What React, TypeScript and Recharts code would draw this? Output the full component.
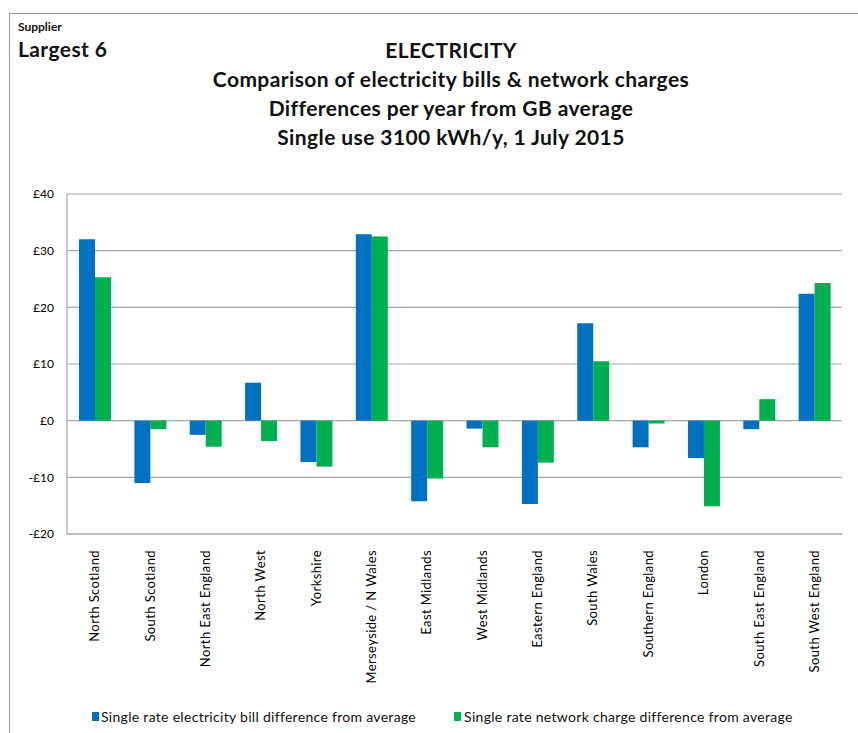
import React from "react";
import { BarChart, Bar, XAxis, YAxis, CartesianGrid } from "recharts";

const categories = [
  "North Scotland",
  "South Scotland",
  "North East England",
  "North West",
  "Yorkshire",
  "Merseyside / N Wales",
  "East Midlands",
  "West Midlands",
  "Eastern England",
  "South Wales",
  "Southern England",
  "London",
  "South East England",
  "South West England",
];
const billDiff = [32.0, -11.0, -2.5, 6.7, -7.3, 32.9, -14.2, -1.4, -14.7, 17.2, -4.7, -6.6, -1.5, 22.4];
const networkDiff = [25.3, -1.5, -4.6, -3.6, -8.1, 32.5, -10.2, -4.7, -7.4, 10.5, -0.5, -15.1, 3.8, 24.3];
const yTicks = [-20, -10, 0, 10, 20, 30, 40];
const seriesNames = [
  "Single rate electricity bill difference from average",
  "Single rate network charge difference from average",
];
const titleLines = [
  "ELECTRICITY",
  "Comparison of electricity bills & network charges",
  "Differences per year from GB average",
  "Single use 3100 kWh/y, 1 July 2015",
];

const BLUE = "#0070C0";
const GREEN = "#00B050";
const FONT = "Lato, 'Open Sans', sans-serif";

const data = categories.map((c, i) => ({ name: c, bill: billDiff[i], network: networkDiff[i] }));

const fmt = (v: number) => (v < 0 ? `-£${-v}` : `£${v}`);

const XTick = (props: any) => {
  const { x, y, payload } = props;
  return (
    <g transform={`translate(${x},${y + 8})`}>
      <text
        transform="rotate(-90)"
        textAnchor="end"
        dy="0.35em"
        fontSize={13}
        letterSpacing={0.4}
        fontFamily={FONT}
        fill="#000"
      >
        {payload.value}
      </text>
    </g>
  );
};

export default function App() {
  return (
    <div
      style={{
        position: "fixed",
        left: 0,
        top: 0,
        width: 858,
        height: 733,
        background: "#fff",
        fontFamily: FONT,
        overflow: "hidden",
      }}
    >
      <div
        style={{
          position: "absolute",
          left: 9,
          top: 13,
          width: 860,
          height: 730,
          borderTop: "1.5px solid #999",
          borderLeft: "1.5px solid #999",
        }}
      />
      <div style={{ position: "absolute", left: 18, top: 19, fontSize: 12, fontWeight: 700, color: "#111" }}>
        Supplier
      </div>
      <div
        style={{
          position: "absolute",
          left: 18,
          top: 36,
          fontSize: 21,
          letterSpacing: 0.4,
          fontWeight: 700,
          color: "#111",
        }}
      >
        Largest 6
      </div>
      <div
        style={{
          position: "absolute",
          left: 0,
          top: 35,
          width: 902,
          textAlign: "center",
          fontSize: 21,
          letterSpacing: 0.4,
          fontWeight: 700,
          color: "#111",
          lineHeight: "29px",
        }}
      >
        {titleLines.map((t) => (
          <div key={t}>{t}</div>
        ))}
      </div>
      <div style={{ position: "absolute", left: 0, top: 0 }}>
        <BarChart
          width={858}
          height={733}
          data={data}
          margin={{ top: 194, right: 16, left: 0, bottom: 49 }}
          barCategoryGap="21.7%"
          barGap={0}
        >
          <CartesianGrid vertical={false} stroke="#a6a6a6" strokeWidth={1.2} />
          <XAxis
            dataKey="name"
            height={150}
            interval={0}
            tick={<XTick />}
            tickLine={false}
            axisLine={{ stroke: "#a6a6a6", strokeWidth: 1.2 }}
          />
          <YAxis
            width={67}
            domain={[-20, 40]}
            ticks={yTicks}
            tickFormatter={fmt}
            tickLine={false}
            tickSize={0}
            tickMargin={13}
            axisLine={{ stroke: "#a6a6a6", strokeWidth: 1.2 }}
            tick={{ fontSize: 12, fill: "#000", fontFamily: FONT }}
          />
          <Bar dataKey="bill" name={seriesNames[0]} fill={BLUE} isAnimationActive={false} />
          <Bar dataKey="network" name={seriesNames[1]} fill={GREEN} isAnimationActive={false} />
        </BarChart>
      </div>
      <div
        style={{
          position: "absolute",
          left: 92,
          top: 708,
          display: "flex",
          alignItems: "center",
          fontSize: 14,
          letterSpacing: 0.3,
          color: "#111",
          whiteSpace: "nowrap",
        }}
      >
        <span style={{ display: "inline-block", width: 7, height: 9, background: BLUE, marginRight: 2 }} />
        <span>{seriesNames[0]}</span>
        <span style={{ display: "inline-block", width: 7, height: 9, background: GREEN, marginLeft: 38, marginRight: 3 }} />
        <span>{seriesNames[1]}</span>
      </div>
    </div>
  );
}
